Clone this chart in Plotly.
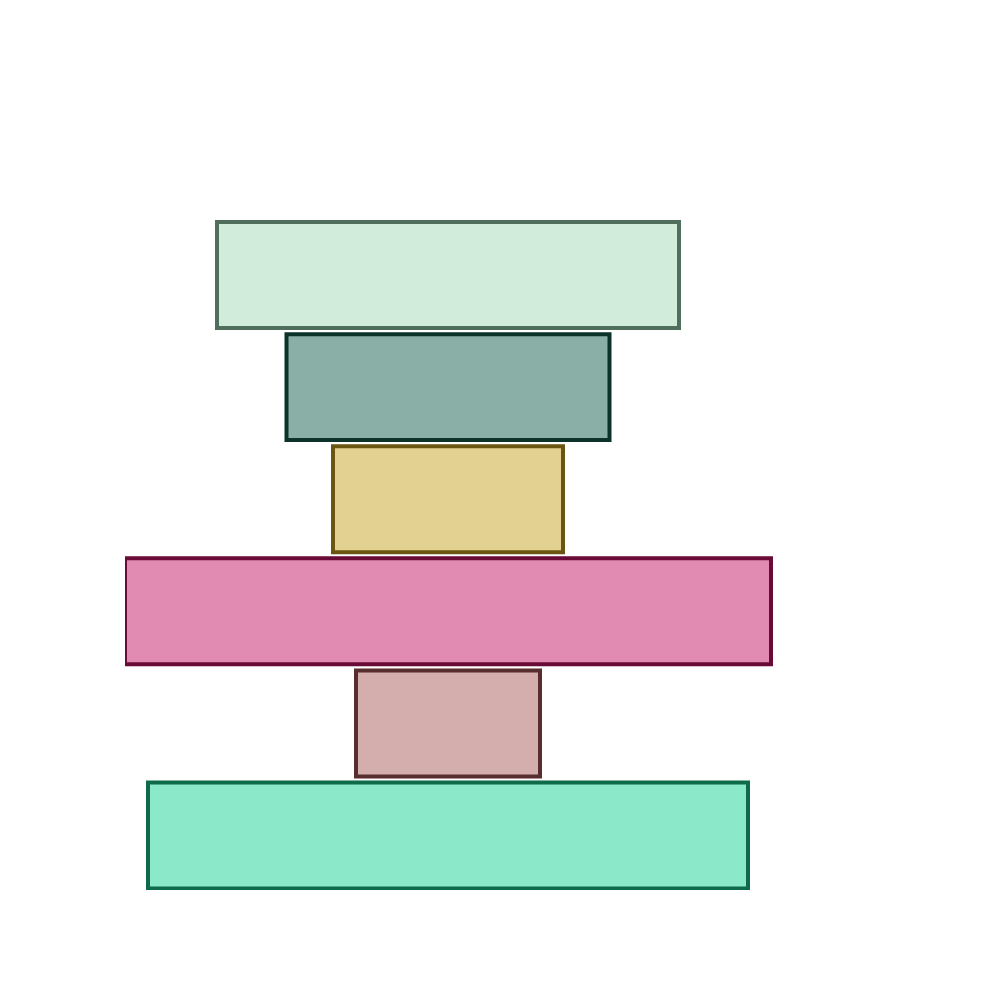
import plotly.graph_objects as go

stages = ["Stage 1", "Stage 2", "Stage 3", "Stage 4", "Stage 5", "Stage 6"]
values = [462, 323, 230, 646, 184, 600]
fill_colors = ["#d1ecdb", "#8aafa7", "#e2d191", "#e28bb2", "#d3aead", "#8be8c8"]
line_colors = ["#4f6f5c", "#0b3329", "#6a5612", "#690a37", "#582d2d", "#0e6b49"]

fig = go.Figure(go.Funnel(
    y=stages,
    x=values,
    textinfo="none",
    hoverinfo="y+x",
    marker=dict(color=fill_colors, line=dict(color=line_colors, width=4)),
    connector=dict(visible=False),
))

fig.update_layout(
    width=1000, height=1000,
    margin=dict(l=117, r=80, t=211, b=118),
    paper_bgcolor="white", plot_bgcolor="white",
    showlegend=False,
    funnelgap=0.055,
    xaxis=dict(range=[-323, 480], visible=False, showgrid=False, zeroline=False),
    yaxis=dict(range=[5.486, -0.5], visible=False, showgrid=False, zeroline=False),
)

fig.write_html("out.html")
